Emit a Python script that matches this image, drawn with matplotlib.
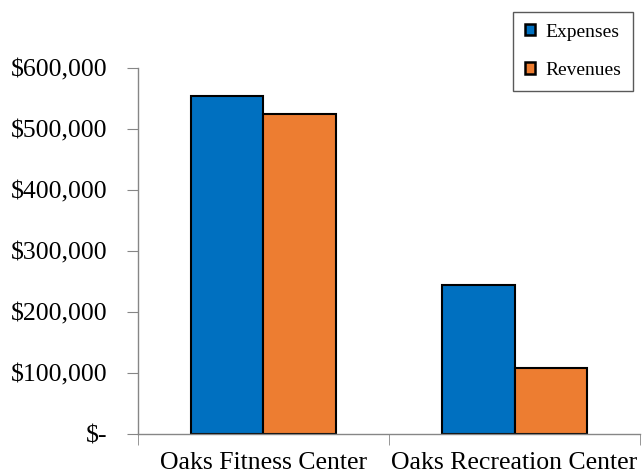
import matplotlib
matplotlib.use('Agg')
import matplotlib.pyplot as plt
import numpy as np
from matplotlib.patches import Patch
from matplotlib.ticker import FuncFormatter

plt.rcParams['font.family'] = ['Liberation Serif', 'DejaVu Serif']

centers = ['Oaks Fitness Center', 'Oaks Recreation Center']
expenses = [555000, 245000]
revenues = [524000, 109000]
series_names = ['Expenses', 'Revenues']
colors = ['#0070C0', '#ED7D31']

fig = plt.figure(figsize=(6.44, 4.74), dpi=100)
ax = fig.add_axes([0.214, 0.0844, 0.78, 0.772])

x = np.arange(len(centers))
w = 0.29
ax.bar(x - w / 2, expenses, w, color=colors[0], edgecolor='black', linewidth=1.5)
ax.bar(x + w / 2, revenues, w, color=colors[1], edgecolor='black', linewidth=1.5)

ax.set_xlim(-0.5, 1.5)
ax.set_ylim(0, 600000)
ax.set_yticks(np.arange(0, 600001, 100000))
ax.yaxis.set_major_formatter(FuncFormatter(
    lambda v, p: '$-' if v == 0 else f'${v:,.0f}'))

ax.set_xticks(x)
ax.set_xticklabels(centers)
ax.set_xticks([-0.5, 0.5, 1.5], minor=True)

for s in ['top', 'right']:
    ax.spines[s].set_visible(False)
for s in ['left', 'bottom']:
    ax.spines[s].set_color('#868686')
    ax.spines[s].set_linewidth(1)

ax.tick_params(axis='y', labelsize=18.5, length=8, color='#868686', pad=14)
ax.tick_params(axis='x', which='major', labelsize=18.5, length=0, pad=13)
ax.tick_params(axis='x', which='minor', length=8, color='#868686')

handles = [Patch(facecolor=c, edgecolor='black', linewidth=1.8) for c in colors]
leg = fig.legend(handles, series_names, loc='upper right',
                 bbox_to_anchor=(0.983, 0.975), fontsize=14,
                 handlelength=0.5, handleheight=0.5, handletextpad=0.55,
                 labelspacing=1.1, borderpad=0.6, borderaxespad=0,
                 fancybox=False, framealpha=1)
leg.get_frame().set_edgecolor('#595959')
leg.get_frame().set_linewidth(1)

fig.savefig('out.png', dpi=100)
